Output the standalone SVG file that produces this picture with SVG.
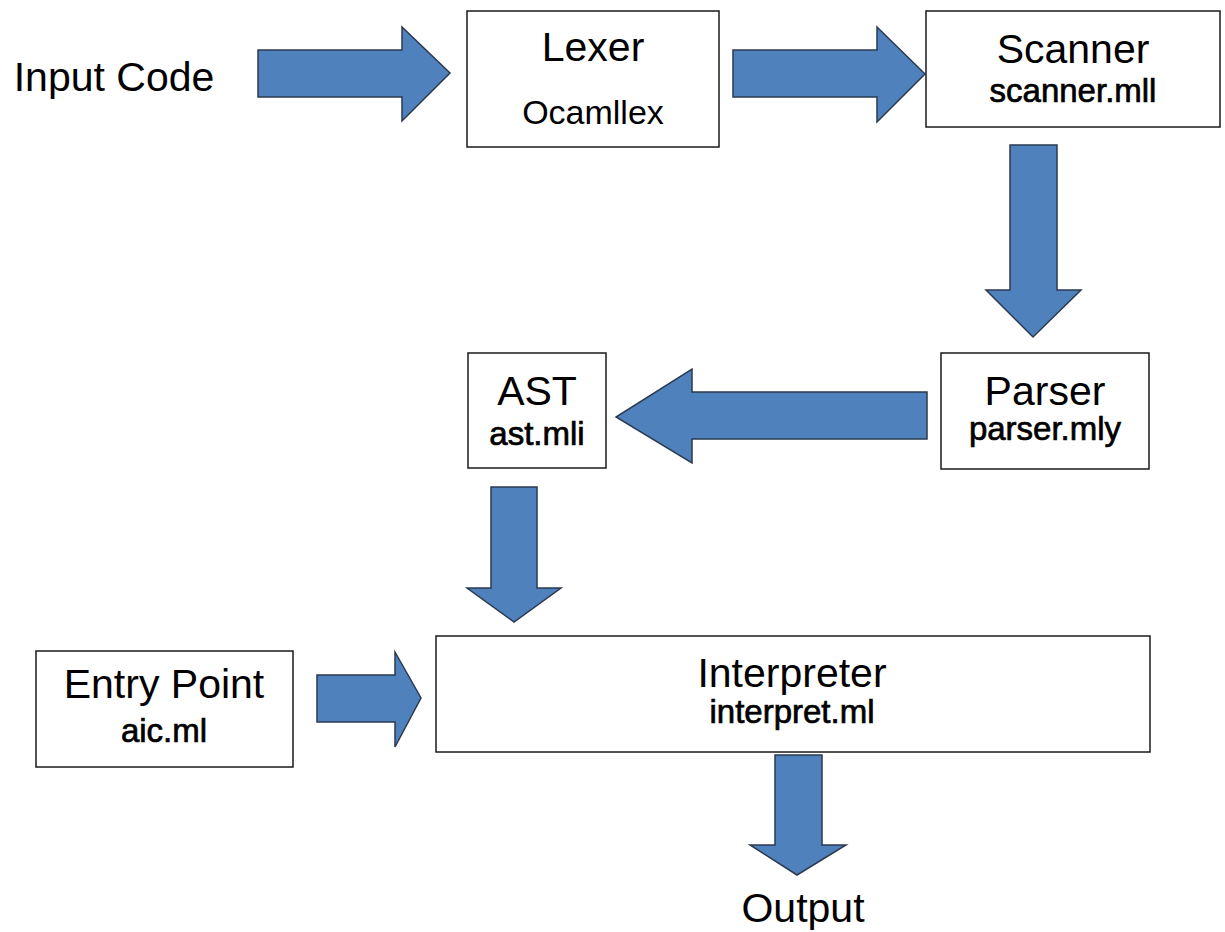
<svg xmlns="http://www.w3.org/2000/svg" width="1225" height="932" viewBox="0 0 1225 932">
<style>
.box{fill:#fff;stroke:#1a1a1a;stroke-width:1.5}
.arr{fill:#4F81BD;stroke:#2B3A4F;stroke-width:1.5;stroke-linejoin:miter}
.t{font-family:"Liberation Sans",Arial,sans-serif;font-size:41px;fill:#000;text-anchor:middle}
.s{font-family:"Liberation Sans",Arial,sans-serif;font-size:33px;fill:#000;stroke:#000;stroke-width:0.7;text-anchor:middle}
.r{font-family:"Liberation Sans",Arial,sans-serif;font-size:34px;fill:#000;text-anchor:middle}
</style>
<rect width="1225" height="932" fill="#fff"/>
<g id="connectors">
<polygon class="arr" points="258,50 402,50 402,27 450,73 402,121 402,97 258,97"/>
<polygon class="arr" points="733,50 877,50 877,27 925,74 877,122 877,97 733,97"/>
<polygon class="arr" points="1010,145 1057,145 1057,290 1081,290 1033,337 986,290 1010,290"/>
<polygon class="arr" points="927,392 692,392 692,369 616,417 692,463 692,439 927,439"/>
<polygon class="arr" points="491,487 537,487 537,588 561,588 514,622 467,588 491,588"/>
<polygon class="arr" points="317,675 395,675 395,652 421,698 395,747 395,722 317,722"/>
<polygon class="arr" points="775,755 822,755 822,845 846,845 797,875 750,845 775,845"/>
</g>
<g id="input-code">
<text class="t" x="114" y="91">Input Code</text>
</g>
<g id="lexer">
<rect class="box" x="467" y="11" width="252" height="136"/>
<text class="t" x="593" y="61">Lexer</text>
<text class="r" x="593" y="124">Ocamllex</text>
</g>
<g id="scanner">
<rect class="box" x="926" y="11" width="294" height="116"/>
<text class="t" x="1073" y="63">Scanner</text>
<text class="s" x="1073" y="102">scanner.mll</text>
</g>
<g id="parser">
<rect class="box" x="941" y="353" width="208" height="116"/>
<text class="t" x="1045" y="405">Parser</text>
<text class="s" x="1045" y="440">parser.mly</text>
</g>
<g id="ast">
<rect class="box" x="468" y="353" width="138" height="115"/>
<text class="t" x="537" y="405">AST</text>
<text class="s" x="537" y="445">ast.mli</text>
</g>
<g id="entry-point">
<rect class="box" x="36" y="651" width="257" height="116"/>
<text class="t" x="164" y="698">Entry Point</text>
<text class="s" x="164" y="742">aic.ml</text>
</g>
<g id="interpreter">
<rect class="box" x="436" y="636" width="714" height="116"/>
<text class="t" x="792" y="687">Interpreter</text>
<text class="s" x="792" y="723">interpret.ml</text>
</g>
<g id="output">
<text class="t" x="803" y="922">Output</text>
</g>
</svg>
